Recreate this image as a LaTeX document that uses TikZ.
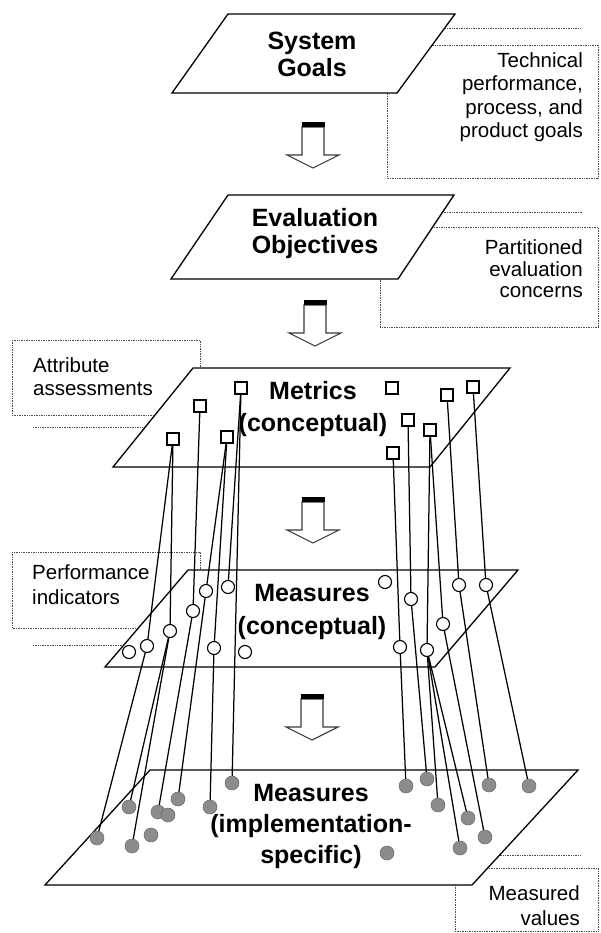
\documentclass[tikz,border=0pt]{standalone}
\usepackage{fontspec}
\setmainfont{Liberation Sans}
\begin{document}
\begin{tikzpicture}[x=1pt,y=-1pt,
  plane/.style={draw=black, line width=1.3pt, fill=white, line join=miter},
  notebox/.style={draw=gray!60!black, densely dotted, line width=0.7pt},
  arrowline/.style={draw=gray!45!black, line width=1.1pt, fill=white, line join=miter},
  sq/.style={rectangle, draw=black, fill=white, line width=1.1pt, minimum size=12pt, inner sep=0pt},
  oc/.style={circle, draw=black, fill=white, line width=1.1pt, minimum size=13pt, inner sep=0pt},
  vdot/.style={circle, draw=black!60, fill=black!45, line width=0.5pt, minimum size=14pt, inner sep=0pt},
  link/.style={draw=black, line width=1.25pt},
  blabel/.style={font=\fontsize{25}{27}\selectfont\bfseries, align=center, inner sep=0pt},
  note/.style={font=\fontsize{20.5}{23.5}\selectfont, inner sep=0pt},
]
\useasboundingbox (0,0) rectangle (600,933);

% hollow block arrow between levels: #1 = centre x, #2 = top y
\newcommand\blockarrow[2]{%
  \begin{scope}[shift={(#1,#2)}]
    \draw[arrowline] (-11,5) -- (-11,33) -- (-26,33) -- (0,46)
       -- (26,33) -- (11,33) -- (11,5) -- cycle;
    \fill[black] (-11.5,0) rectangle (11.5,5);
  \end{scope}
}

% ---- side notes (drawn first, the planes cover part of them) ----
\draw[notebox] (430,28) -- (580,28);
\draw[notebox] (387,45) rectangle (598,178);
\node[note, anchor=east, align=right] (n1) at (583,97) {Technical\\performance,\\process, and\\product goals};

\draw[notebox] (430,212) -- (583,212);
\draw[notebox] (380,227) rectangle (598,327);
\node[note, font=\fontsize{20.5}{21.5}\selectfont, anchor=east, align=right] (n2) at (583,269) {Partitioned\\evaluation\\concerns};

\draw[notebox] (12,340) rectangle (200,415);
\draw[notebox] (33,427) -- (160,427);
\node[note, anchor=west, align=left] (n3) at (33,376.5) {Attribute\\assessments};

\draw[notebox] (12,552) rectangle (200,628);
\draw[notebox] (33,645) -- (150,645);
\node[note, font=\fontsize{20.5}{25}\selectfont, anchor=west, align=left] (n4) at (32,584.5) {Performance\\indicators};

\draw[notebox] (430,855) -- (580,855);
\draw[notebox] (455,868) rectangle (598,931);
\node[note, font=\fontsize{20.5}{25}\selectfont, anchor=east, align=right] (n5) at (580,905.5) {Measured\\values};

% ---- planes ----
\draw[plane] (172,93) -- (397,93) -- (455,14) -- (228,14) -- cycle;
\node[blabel] (goals) at (312,54.5) {System\\Goals};

\draw[plane] (171,279) -- (398,279) -- (454,195) -- (228,195) -- cycle;
\node[blabel] (objectives) at (315,233.5) {Evaluation\\Objectives};

\draw[plane] (113,467) -- (430,467) -- (510,368) -- (193,368) -- cycle;
\node[blabel, font=\fontsize{25}{32}\selectfont\bfseries] (metrics) at (313,409) {Metrics\\(conceptual)};

\draw[plane] (105,667) -- (435,667) -- (518,570) -- (188,570) -- cycle;
\node[blabel, font=\fontsize{25}{33}\selectfont\bfseries] (measures) at (312,611.5) {Measures\\(conceptual)};

\draw[plane] (45,885) -- (472,885) -- (578,770) -- (150,770) -- cycle;
\node[blabel, font=\fontsize{25}{31}\selectfont\bfseries] (impl) at (311,826) {Measures\\(implementation-\\specific)};

% ---- arrows between levels ----
\blockarrow{313}{122}
\blockarrow{315}{300}
\blockarrow{313}{497}
\blockarrow{312}{694}

% ---- metrics (squares) ----
\node[sq] (S1) at (173,439) {};
\node[sq] (S2) at (200,406) {};
\node[sq] (S3) at (241,388) {};
\node[sq] (S4) at (227,437) {};
\node[sq] (S5) at (392,388) {};
\node[sq] (S6) at (408,420) {};
\node[sq] (S7) at (393,453) {};
\node[sq] (S8) at (430,430) {};
\node[sq] (S9) at (447,395) {};
\node[sq] (S10) at (473,387) {};

% ---- conceptual measures (open circles) ----
\node[oc] (C1) at (129,652) {};
\node[oc] (C2) at (147,646) {};
\node[oc] (C3) at (170,631) {};
\node[oc] (C4) at (193,611) {};
\node[oc] (C5) at (206,591) {};
\node[oc] (C6) at (228,587) {};
\node[oc] (C7) at (214,648) {};
\node[oc] (C8) at (245,652) {};
\node[oc] (C9) at (385,582) {};
\node[oc] (C10) at (411,599) {};
\node[oc] (C11) at (443,624) {};
\node[oc] (C12) at (400,647) {};
\node[oc] (C13) at (427,650) {};
\node[oc] (C14) at (459,585) {};
\node[oc] (C15) at (486,585) {};

% ---- implementation-specific measures (filled dots) ----
\node[vdot] (D1) at (97,838) {};
\node[vdot] (D2) at (129,807) {};
\node[vdot] (D3) at (132,846) {};
\node[vdot] (D4) at (151,835) {};
\node[vdot] (D5) at (158,812) {};
\node[vdot] (D6) at (168,815) {};
\node[vdot] (D7) at (178,799) {};
\node[vdot] (D8) at (210,807) {};
\node[vdot] (D9) at (232,783) {};
\node[vdot] (D10) at (387,853) {};
\node[vdot] (D11) at (406,786) {};
\node[vdot] (D12) at (427,779) {};
\node[vdot] (D13) at (438,805) {};
\node[vdot] (D14) at (468,818) {};
\node[vdot] (D15) at (460,848) {};
\node[vdot] (D16) at (485,837) {};
\node[vdot] (D17) at (489,785) {};
\node[vdot] (D18) at (529,786) {};

% ---- links ----
\foreach \a/\b in {S1/C2, S1/C3, S2/C4, S4/C5, S4/C7, S3/C6, S3/D9,
                   C2/D1, C3/D2, C3/D3, C4/D5, C5/D7, C7/D8,
                   S6/C10, S7/C12, S8/C13, S8/C11, S9/C14, S10/C15,
                   C12/D11, C10/D12, C13/D13, C13/D14, C13/D15, C11/D16,
                   C14/D17, C15/D18}
  \draw[link] (\a) -- (\b);
\end{tikzpicture}
\end{document}
